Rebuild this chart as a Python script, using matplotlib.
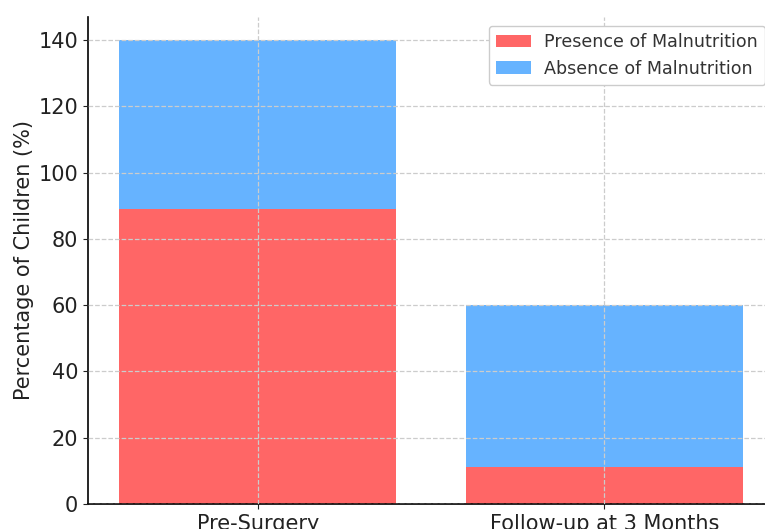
import matplotlib.pyplot as plt

# data
stages = ['Pre-Surgery', 'Follow-up at 3 Months']
presence = [88.9, 11.1]
absence = [51.1, 48.9]

plt.rcParams['font.family'] = 'DejaVu Sans'

fig = plt.figure(figsize=(7.65, 5.29), dpi=100)
W, H = 765, 529
ax = fig.add_axes([88 / W, 25 / H, (774 - 88) / W, (504 - 17) / H])

ax.bar(stages, presence, width=0.8, color='#ff6666', label='Presence of Malnutrition')
ax.bar(stages, absence, width=0.8, bottom=presence, color='#66b3ff', label='Absence of Malnutrition')

ax.set_ylabel('Percentage of Children (%)', fontsize=15, color='#222222', labelpad=3)
ax.tick_params(axis='both', labelsize=15, colors='#222222')
ax.grid(True, linestyle='--', color='#cccccc', linewidth=0.9)
ax.set_axisbelow(False)
for s in ['top', 'right']:
    ax.spines[s].set_visible(False)
ax.spines['left'].set_linewidth(1.2)
ax.spines['bottom'].set_linewidth(1.2)

leg = ax.legend(loc='upper right', fontsize=12.6, framealpha=1, edgecolor='#cccccc')
for t in leg.get_texts():
    t.set_color('#333333')

fig.savefig('out.png', dpi=100)
